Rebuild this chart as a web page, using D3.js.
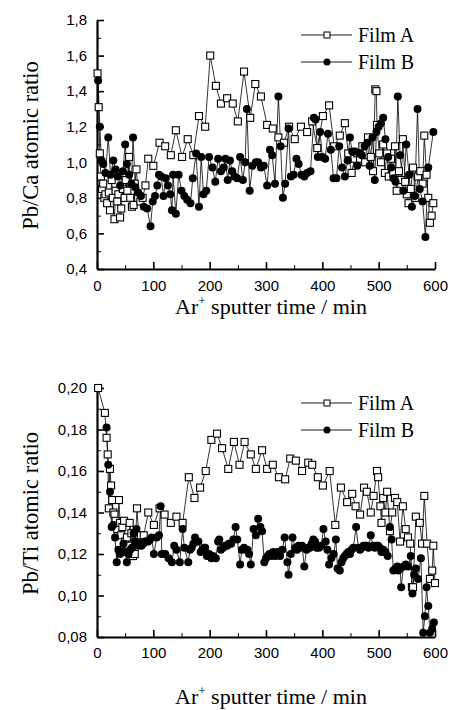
<!DOCTYPE html>
<html><head><meta charset="utf-8">
<script src="https://cdn.jsdelivr.net/npm/d3@7"></script>
<style>
body{margin:0;background:#fff;}
svg{display:block;}
.tick text{font-family:"Liberation Sans",Arial,sans-serif;font-size:15px;fill:#000;}
.ttl{font-family:"Liberation Serif","Times New Roman",serif;fill:#000;}
</style></head>
<body>
<svg id="c" width="450" height="710"></svg>
<script>
// ---------- DATA ----------
const timeTicks = [0,100,200,300,400,500,600];
const caTicks = [0.4,0.6,0.8,1.0,1.2,1.4,1.6,1.8];
const tiTicks = [0.08,0.10,0.12,0.14,0.16,0.18,0.20];
const seriesNames = ["Film A","Film B"];

// Pb/Ca, Film A
const caTimeA = [1,3,5,7,9,11,13,15,18,21,23,26,28,31,33,36,38,41,43,46,49,51,54,57,59,62,65,67,70,73,77,81,86,91,100,111,121,131,140,151,161,171,181,192,201,211,220,231,241,250,261,272,281,291,302,312,322,332,341,351,362,373,382,391,401,412,421,431,440,446,452,457,462,467,471,476,481,486,490,494,496,497,501,504,508,511,515,518,522,526,529,532,536,540,543,547,550,553,557,561,565,570,574,578,581,585,588,591,594,597];
const caRatioA = [1.50,1.31,1.05,0.92,0.85,0.88,0.80,0.82,0.77,0.83,0.73,0.90,0.80,0.68,0.84,0.78,0.82,0.69,0.74,0.85,0.80,0.90,0.84,1.03,0.80,0.75,0.76,0.88,0.96,0.80,0.78,0.80,0.87,1.02,0.98,1.11,1.09,1.04,1.18,1.03,1.13,1.04,1.26,1.20,1.60,1.43,1.33,1.36,1.33,1.23,1.51,1.25,1.44,1.37,1.21,1.19,1.14,1.11,1.20,1.13,1.20,1.17,1.23,1.08,1.26,1.32,1.09,1.15,1.22,1.05,0.94,1.02,1.05,1.02,1.09,1.00,1.14,1.03,0.95,1.41,1.40,1.21,1.05,1.00,1.10,0.94,1.05,0.92,1.02,0.94,1.09,0.84,0.95,0.90,1.13,0.89,0.82,0.77,0.85,0.97,0.80,0.92,0.95,0.88,1.15,0.93,0.80,0.66,0.70,0.77];

// Pb/Ca, Film B
const caTimeB = [2,5,8,11,15,20,24,29,33,37,41,46,50,53,57,61,64,68,73,78,83,89,95,99,103,107,110,114,118,122,126,130,133,135,140,145,150,155,160,166,170,176,181,185,189,194,199,205,210,215,220,225,228,232,236,240,244,249,254,259,263,266,271,276,282,286,291,296,302,307,311,316,322,326,330,334,340,344,349,354,358,363,368,373,379,385,388,392,396,400,405,410,415,420,425,430,435,440,445,449,453,458,462,466,470,475,480,484,489,493,496,500,504,508,512,517,522,526,530,534,538,544,549,554,559,564,569,573,578,583,588,597];
const caRatioB = [1.46,1.20,1.01,0.99,0.94,1.14,0.93,1.01,0.96,0.92,0.87,0.95,1.10,0.99,0.93,0.88,1.14,0.86,0.83,0.81,0.75,0.74,0.64,0.78,0.81,0.87,0.93,0.92,0.81,0.91,0.87,0.82,0.73,0.93,0.71,0.93,0.84,0.81,0.79,0.77,0.91,1.05,0.75,1.03,0.82,0.84,1.03,0.97,0.89,1.02,0.95,0.97,1.02,0.90,1.01,0.95,0.92,0.91,1.03,0.90,1.00,1.30,0.84,0.98,1.00,1.00,0.97,0.98,0.87,1.07,1.04,0.88,1.37,1.09,0.80,0.88,1.19,0.92,0.93,1.02,0.99,0.93,0.92,0.94,0.95,1.25,1.24,1.03,1.17,1.03,1.02,1.16,1.07,0.91,0.91,1.09,0.97,0.92,1.01,1.14,1.06,1.06,0.98,1.05,1.04,1.09,1.11,0.98,1.14,0.90,1.17,1.20,1.22,1.25,1.13,1.03,0.97,0.91,0.89,1.37,1.04,0.84,1.10,0.93,0.75,0.81,1.30,0.85,0.78,0.58,0.97,1.17];

// Pb/Ti, Film A
const tiTimeA = [2,14,17,19,21,23,25,27,29,31,33,36,39,41,43,45,48,50,53,56,58,61,64,67,71,75,78,83,91,101,111,120,131,141,152,163,173,183,193,203,213,222,233,243,253,262,273,282,293,302,312,323,334,343,353,364,375,382,392,401,413,423,433,444,453,459,467,474,479,486,491,497,499,503,505,508,512,515,520,524,529,533,538,543,548,552,556,559,561,566,573,577,581,586,591,595,597,600];
const tiRatioA = [0.200,0.188,0.176,0.168,0.142,0.161,0.153,0.146,0.140,0.139,0.136,0.132,0.146,0.135,0.129,0.133,0.136,0.126,0.128,0.124,0.135,0.130,0.119,0.120,0.142,0.125,0.129,0.129,0.140,0.134,0.142,0.139,0.135,0.138,0.135,0.157,0.147,0.152,0.160,0.175,0.178,0.171,0.161,0.174,0.163,0.174,0.168,0.161,0.170,0.161,0.163,0.157,0.156,0.166,0.165,0.160,0.164,0.163,0.157,0.153,0.160,0.134,0.152,0.145,0.149,0.143,0.139,0.152,0.150,0.140,0.148,0.160,0.157,0.143,0.135,0.147,0.140,0.150,0.131,0.140,0.147,0.145,0.126,0.143,0.132,0.128,0.125,0.104,0.104,0.138,0.135,0.125,0.148,0.125,0.108,0.112,0.124,0.106];

// Pb/Ti, Film B
const tiTimeB = [17,20,23,26,29,32,35,38,41,44,47,50,53,56,59,62,65,67,70,73,76,79,82,85,88,91,94,97,101,106,110,113,115,121,127,133,137,141,147,152,155,162,165,168,171,174,177,180,184,187,190,192,195,199,203,206,211,215,217,220,224,227,231,234,238,242,246,249,254,257,261,264,267,270,273,278,282,286,290,293,297,300,303,306,310,313,317,321,325,329,333,338,340,344,347,352,355,358,361,364,368,372,375,378,381,384,387,390,394,398,402,406,409,412,416,420,424,427,431,434,437,440,443,446,449,452,455,460,464,467,470,473,476,479,482,486,490,493,496,499,502,505,508,512,516,520,523,526,530,533,535,538,540,544,548,552,557,560,563,566,570,575,579,582,585,588,591,595,598];
const tiRatioB = [0.181,0.163,0.150,0.133,0.134,0.128,0.116,0.122,0.120,0.121,0.125,0.121,0.116,0.120,0.122,0.123,0.130,0.126,0.132,0.124,0.125,0.124,0.125,0.126,0.126,0.126,0.127,0.128,0.120,0.128,0.129,0.143,0.120,0.120,0.118,0.116,0.124,0.122,0.116,0.132,0.123,0.116,0.122,0.123,0.125,0.128,0.126,0.126,0.121,0.122,0.123,0.123,0.119,0.120,0.118,0.119,0.118,0.126,0.127,0.122,0.123,0.124,0.124,0.125,0.125,0.127,0.133,0.127,0.115,0.122,0.123,0.122,0.122,0.120,0.115,0.132,0.129,0.137,0.133,0.131,0.116,0.118,0.119,0.120,0.119,0.121,0.119,0.121,0.119,0.122,0.128,0.116,0.110,0.120,0.128,0.123,0.122,0.124,0.123,0.124,0.114,0.122,0.123,0.123,0.125,0.127,0.126,0.123,0.123,0.124,0.132,0.126,0.122,0.115,0.118,0.120,0.127,0.113,0.112,0.116,0.118,0.119,0.120,0.121,0.120,0.122,0.123,0.133,0.123,0.122,0.123,0.124,0.124,0.124,0.123,0.129,0.124,0.123,0.124,0.124,0.123,0.121,0.122,0.121,0.119,0.133,0.127,0.112,0.113,0.114,0.112,0.113,0.104,0.114,0.115,0.114,0.119,0.101,0.110,0.113,0.108,0.118,0.082,0.090,0.104,0.095,0.082,0.084,0.087];

// ---------- DRAW ----------
const svg = d3.select("#c");
const comma = f => v => d3.format(f)(v).replace(".", ",");

function panel(cfg){
  const x = d3.scaleLinear().domain([0,600]).range([97,435]);
  const y = d3.scaleLinear().domain(cfg.domain).range([cfg.bottom, cfg.top]);
  const g = svg.append("g");

  // minor ticks
  g.append("g").attr("transform",`translate(0,${cfg.bottom})`)
    .call(d3.axisBottom(x).tickValues(d3.range(50,600,100)).tickSize(-4).tickSizeOuter(0).tickFormat(""))
    .call(a=>a.select(".domain").remove());
  g.append("g").attr("transform",`translate(97,0)`)
    .call(d3.axisLeft(y).tickValues(cfg.minor).tickSize(-4).tickSizeOuter(0).tickFormat(""))
    .call(a=>a.select(".domain").remove());

  // major axes
  const ax = g.append("g").attr("transform",`translate(0,${cfg.bottom})`)
    .call(d3.axisBottom(x).tickValues(timeTicks).tickSize(-7).tickSizeOuter(0).tickPadding(cfg.xpad).tickFormat(d3.format("d")));
  const ay = g.append("g").attr("transform",`translate(97,0)`)
    .call(d3.axisLeft(y).tickValues(cfg.ticks).tickSize(-7).tickSizeOuter(0).tickPadding(10).tickFormat(comma(cfg.fmt)));
  [ax,ay].forEach(a=>{
    a.select(".domain").attr("stroke","#000").attr("stroke-width",2.2);
    a.selectAll(".tick line").attr("stroke","#000").attr("stroke-width",1.6);
  });
  g.selectAll(".tick line").attr("stroke","#000");

  const line = d3.line().x(d=>x(d[0])).y(d=>y(d[1]));
  const A = cfg.tA.map((t,i)=>[t,cfg.vA[i]]);
  const B = cfg.tB.map((t,i)=>[t,cfg.vB[i]]);

  g.append("path").attr("d",line(A)).attr("fill","none").attr("stroke","#000").attr("stroke-width",0.8);
  g.append("path").attr("d",line(B)).attr("fill","none").attr("stroke","#000").attr("stroke-width",0.8);
  g.selectAll(".sq").data(A).join("rect")
    .attr("x",d=>x(d[0])-3.5).attr("y",d=>y(d[1])-3.5).attr("width",7).attr("height",7)
    .attr("fill","#fff").attr("stroke","#000").attr("stroke-width",1.1);
  g.selectAll(".ci").data(B).join("circle")
    .attr("cx",d=>x(d[0])).attr("cy",d=>y(d[1])).attr("r",4).attr("fill","#000");

  // titles
  g.append("text").attr("class","ttl").attr("font-size",22.5)
    .attr("text-anchor","middle")
    .attr("transform",`translate(38,${(cfg.top+cfg.bottom)/2 + 1}) rotate(-90)`)
    .text(cfg.ylabel);
  const xt = g.append("text").attr("class","ttl").attr("font-size",22)
    .attr("text-anchor","middle").attr("x",271).attr("y",cfg.xtitleY);
  xt.append("tspan").text("Ar");
  xt.append("tspan").attr("font-size",13).attr("dy",-9).text("+");
  xt.append("tspan").attr("dy",9).text(" sputter time / min");

  // legend
  const lg = g.append("g");
  seriesNames.forEach((name,i)=>{
    const ly = cfg.legY + i*27;
    lg.append("line").attr("x1",301).attr("x2",352).attr("y1",ly).attr("y2",ly).attr("stroke","#000").attr("stroke-width",0.9);
    if(i===0){
      lg.append("rect").attr("x",324).attr("y",ly-3).attr("width",6).attr("height",6).attr("fill","#fff").attr("stroke","#000").attr("stroke-width",1);
    } else {
      lg.append("circle").attr("cx",327).attr("cy",ly).attr("r",3.5).attr("fill","#000");
    }
    lg.append("text").attr("class","ttl").attr("font-size",20).attr("x",358).attr("y",ly+6.5).text(name);
  });
}

panel({domain:[0.4,1.8], top:20, bottom:269, ticks:caTicks, minor:[0.5,0.7,0.9,1.1,1.3,1.5,1.7], fmt:".1f",
  tA:caTimeA, vA:caRatioA, tB:caTimeB, vB:caRatioB, ylabel:"Pb/Ca atomic ratio", xtitleY:314, legY:35, xpad:11});
panel({domain:[0.08,0.20], top:388, bottom:637, ticks:tiTicks, minor:[0.09,0.11,0.13,0.15,0.17,0.19], fmt:".2f",
  tA:tiTimeA, vA:tiRatioA, tB:tiTimeB, vB:tiRatioB, ylabel:"Pb/Ti atomic ratio", xtitleY:704, legY:403, xpad:10});
</script>
</body></html>
